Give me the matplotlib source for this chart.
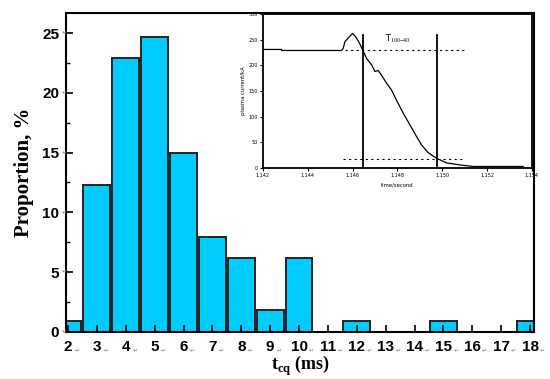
import matplotlib
matplotlib.use("Agg")
import matplotlib.pyplot as plt
from matplotlib.ticker import MultipleLocator

plt.rcParams['mathtext.fontset'] = 'custom'
plt.rcParams['mathtext.rm'] = 'Liberation Serif'
plt.rcParams['mathtext.bf'] = 'Liberation Serif:bold'

# histogram of current quench time
tcq_ms = [2, 3, 4, 5, 6, 7, 8, 9, 10, 11, 12, 13, 14, 15, 16, 17, 18]
proportion = [0.9, 12.3, 22.9, 24.7, 15.0, 7.9, 6.2, 1.8, 6.2, 0, 0.9, 0, 0, 0.9, 0, 0, 0.9]
y_ticks = [0, 5, 10, 15, 20, 25]

# inset: plasma current waveform
time_s = [1.14201, 1.14283, 1.14284, 1.14551, 1.14558, 1.14566, 1.14588, 1.14600,
          1.14615, 1.14630, 1.14645, 1.14662, 1.14685, 1.14700, 1.14714, 1.14729,
          1.14752, 1.14774, 1.14796, 1.14826, 1.14856, 1.14886, 1.14908, 1.14937,
          1.14975, 1.15019, 1.15079, 1.15138, 1.15361]
current_ka = [231, 231, 229, 229, 233, 246, 257, 262, 255, 244, 230, 214, 201, 188,
              190, 181, 165, 152, 132, 107, 84, 61, 45, 30, 19, 10, 6, 3, 3]
t_marks = [1.14645, 1.14975]
level_hi = 229
level_lo = 17
inset_xticks = [1.142, 1.144, 1.146, 1.148, 1.150, 1.152, 1.154]
inset_yticks = [0, 50, 100, 150, 200, 250, 300]

fig = plt.figure(figsize=(5.5, 3.79), dpi=100)
ax = fig.add_axes([0.12, 0.1248, 0.851, 0.841])

ax.bar(tcq_ms, proportion, width=0.93, color='#00CCFF', edgecolor='#222222', linewidth=1.4)
ax.set_xlim(1.93, 18.14)
ax.set_ylim(0, 26.7)
ax.set_xticks(tcq_ms)
ax.set_yticks(y_ticks)
ax.yaxis.set_minor_locator(MultipleLocator(2.5))
ax.tick_params(axis='both', which='both', direction='in', color='black')
ax.tick_params(axis='both', which='major', length=5, width=1.2, pad=5)
ax.tick_params(axis='y', which='minor', length=3, width=1)
ax.tick_params(axis='x', which='major', pad=6)
for lab in ax.get_xticklabels() + ax.get_yticklabels():
    lab.set_fontfamily('Liberation Sans')
    lab.set_fontweight('bold')
    lab.set_fontsize(11)
for s in ax.spines.values():
    s.set_linewidth(1.5)

# paragraph marks after the tick labels
for x in tcq_ms:
    dx = 6.5 if x < 10 else 9.0
    ax.annotate('↵', xy=(x, 0), xycoords=('data', 'axes fraction'), xytext=(dx, -13.5),
                textcoords='offset points', color='#888888', fontsize=4.5, ha='center', va='center')
for y in y_ticks:
    ax.annotate('↵', xy=(0, y), xycoords=('axes fraction', 'data'), xytext=(-1.5, 0),
                textcoords='offset points', color='#888888', fontsize=4.5, ha='center', va='center')

ax.set_ylabel('Proportion, %', fontfamily='Liberation Serif', fontweight='bold', fontsize=15, labelpad=6)
ax.set_xlabel(r'$\mathbf{t}_{\mathbf{cq}}$ (ms)', fontfamily='Liberation Serif', fontweight='bold',
              fontsize=13, labelpad=0)

# inset
ins = fig.add_axes([0.478, 0.5567, 0.489, 0.4063])
ins.plot(time_s, current_ka, color='black', linewidth=0.9)
for t in t_marks:
    ins.axvline(t, ymin=0.015, ymax=0.865, color='black', linewidth=1.3)
ins.plot([1.14566, 1.15109], [level_hi, level_hi], color='black', linewidth=0.8, linestyle=(0, (2, 3)))
ins.plot([1.14558, 1.15093], [level_lo, level_lo], color='black', linewidth=0.8, linestyle=(0, (2, 3)))
ins.text(1.14744, 251, r'T$_{100\!-\!40}$', fontsize=6, ha='left', va='center')
ins.set_xlim(1.142, 1.154)
ins.set_ylim(0, 300)
ins.set_xticks(inset_xticks)
ins.set_yticks(inset_yticks)
ins.set_xticklabels(['%.3f' % v for v in inset_xticks])
ins.tick_params(labelsize=3.5, length=2, width=0.8, pad=1.5)
ins.set_ylabel('plasma current/kA', fontsize=3.8, labelpad=2)
ins.set_xlabel('time/second', fontsize=3.8, labelpad=3)
for s in ins.spines.values():
    s.set_linewidth(1.3)

fig.savefig('out.png', dpi=100)
